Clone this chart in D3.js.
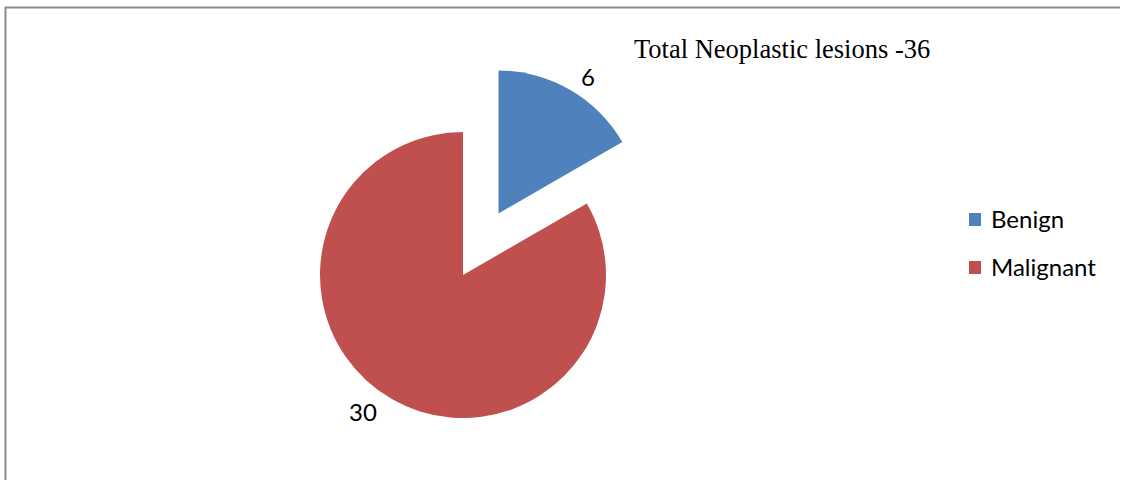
<!DOCTYPE html>
<html>
<head>
<meta charset="utf-8">
<script src="https://cdn.jsdelivr.net/npm/d3@7"></script>
<style>
  html, body { margin: 0; padding: 0; background: #fff; }
  svg { display: block; }
</style>
</head>
<body>
<svg id="chart" width="1122" height="480"></svg>
<script>
// Neoplastic lesion counts
const categories = ["Benign", "Malignant"];
const counts = [6, 30];
const colors = ["#4F81BD", "#C0504D"];
const titleText = "Total Neoplastic lesions -36";

const svg = d3.select("#chart");

// Chart frame (top and left edges)
svg.append("line").attr("x1", 5).attr("x2", 1120).attr("y1", 7.5).attr("y2", 7.5)
  .attr("stroke", "#8c8c8c").attr("stroke-width", 2);
svg.append("line").attr("x1", 5.5).attr("x2", 5.5).attr("y1", 7).attr("y2", 480)
  .attr("stroke", "#8c8c8c").attr("stroke-width", 2);

const cx = 463, cy = 275, radius = 143, explode = 71;

const pie = d3.pie().sort(null).value(d => d)(counts);
const arc = d3.arc().innerRadius(0).outerRadius(radius);

const g = svg.append("g").attr("transform", `translate(${cx},${cy})`);

g.selectAll("path.slice")
  .data(pie)
  .join("path")
  .attr("class", "slice")
  .attr("fill", (d, i) => colors[i])
  .attr("transform", (d, i) => {
    if (i !== 0) return null;
    const mid = (d.startAngle + d.endAngle) / 2;
    return `translate(${Math.sin(mid) * explode},${-Math.cos(mid) * explode})`;
  })
  .attr("d", arc);

// Data labels outside the slices
const labelPos = [
  { x: 588, y: 86 },
  { x: 363, y: 421 }
];
svg.selectAll("text.val")
  .data(pie)
  .join("text")
  .attr("class", "val")
  .attr("x", (d, i) => labelPos[i].x)
  .attr("y", (d, i) => labelPos[i].y)
  .attr("text-anchor", "middle")
  .attr("font-family", "Lato, 'Open Sans', sans-serif")
  .attr("font-size", 24)
  .attr("fill", "#000")
  .text(d => d.data);

// Title
svg.append("text")
  .attr("x", 634).attr("y", 58)
  .attr("font-family", "'Liberation Serif', 'Times New Roman', serif")
  .attr("font-size", 26.5)
  .attr("fill", "#000")
  .text(titleText);

// Legend
const legend = svg.append("g");
const items = legend.selectAll("g").data(categories).join("g")
  .attr("transform", (d, i) => `translate(969,${213 + i * 48})`);
items.append("rect").attr("width", 12).attr("height", 13)
  .attr("fill", (d, i) => colors[i]);
items.append("text").attr("x", 22).attr("y", 15)
  .attr("font-family", "Lato, 'Open Sans', sans-serif")
  .attr("font-size", 24).attr("fill", "#000")
  .text(d => d);
</script>
</body>
</html>
